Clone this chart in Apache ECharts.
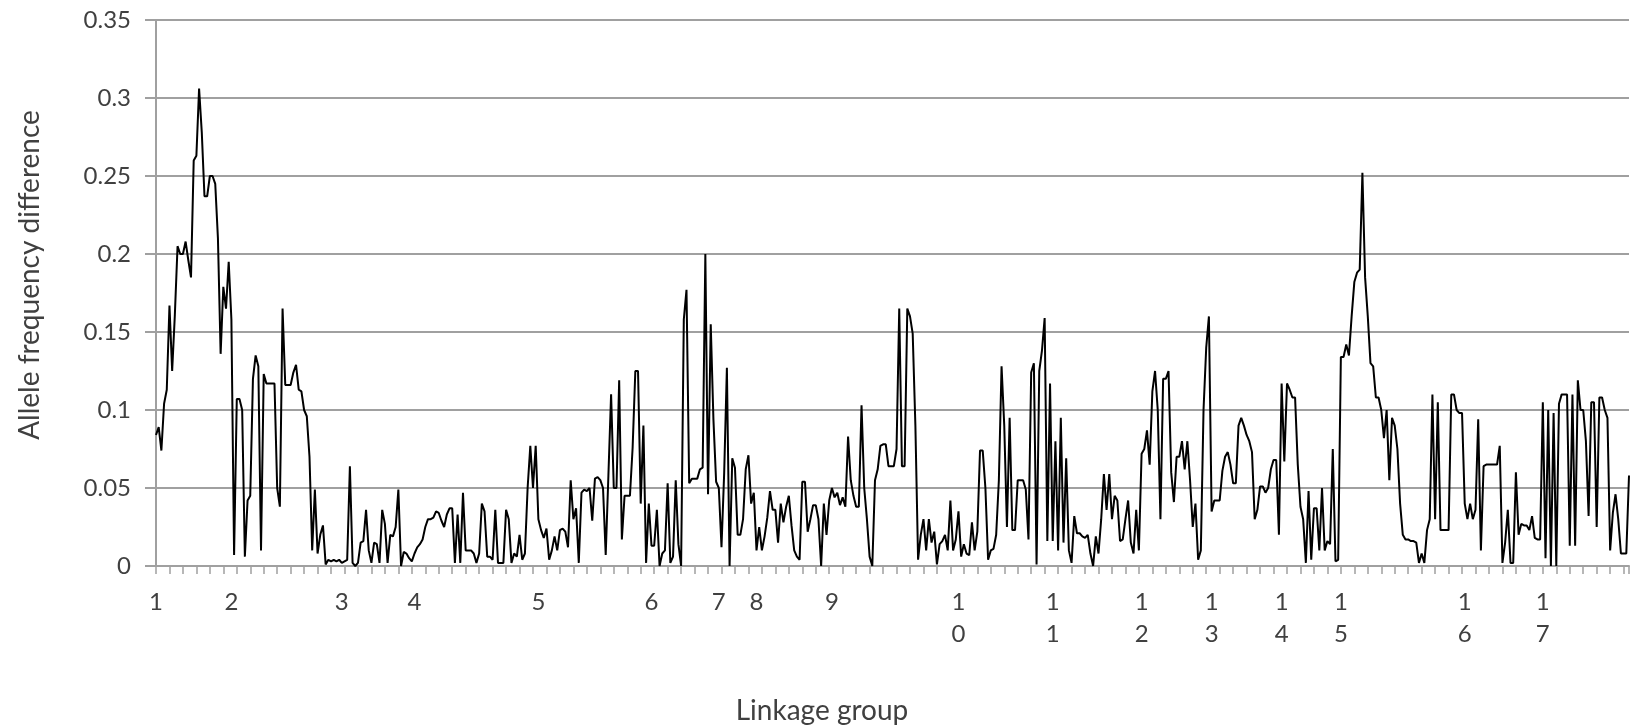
<!DOCTYPE html>
<html>
<head>
<meta charset="utf-8">
<script src="https://cdn.jsdelivr.net/npm/echarts@6/dist/echarts.min.js"></script>
<style>
  html, body { margin: 0; padding: 0; background: #ffffff; }
  #chart { width: 1632px; height: 728px; }
</style>
</head>
<body>
<div id="chart"></div>
<script>
// Linkage groups and the index of the first marker of each group along the genome
const groupNames = ['1','2','3','4','5','6','7','8','9','10','11','12','13','14','15','16','17'];
const groupStarts = [0, 28, 69, 96, 142, 184, 209, 223, 251, 298, 333, 366, 392, 418, 440, 486, 515];

// Allele frequency difference per marker, in genome order
const alleleDiff = [
  .084,.089,.074,.104,.113,.167,.125,.161,.205,.2,.2,.208,.196,.185,.26,.263,.306,.278,.237,.237,
  .25,.25,.245,.21,.136,.179,.165,.195,.158,.007,.107,.107,.1,.006,.042,.045,.12,.135,.128,.01,
  .123,.117,.117,.117,.117,.05,.038,.165,.116,.116,.116,.124,.129,.113,.112,.1,.096,.07,.01,.049,
  .008,.02,.026,.001,.004,.003,.004,.003,.004,.002,.003,.004,.064,.002,0,.002,.015,.016,.036,.01,
  .002,.015,.014,.002,.036,.027,.002,.02,.019,.025,.049,0,.009,.008,.005,.003,.008,.012,.014,.017,
  .025,.03,.03,.031,.035,.034,.029,.025,.033,.037,.037,.002,.033,.002,.047,.01,.01,.01,.008,.002,
  .008,.04,.035,.006,.006,.004,.036,.002,.002,.002,.036,.03,.002,.008,.006,.02,.004,.008,.05,.077,
  .05,.077,.03,.023,.018,.024,.004,.01,.019,.01,.023,.024,.022,.012,.055,.03,.037,.002,.047,.049,
  .048,.05,.029,.056,.057,.055,.05,.007,.058,.11,.05,.05,.119,.017,.045,.045,.045,.076,.125,.125,
  .04,.09,.002,.04,.013,.013,.036,0,.008,.01,.053,.002,.006,.055,.014,0,.158,.177,.053,.056,
  .056,.056,.062,.063,.2,.046,.155,.094,.054,.05,.012,.06,.127,0,.069,.063,.02,.02,.03,.062,
  .071,.04,.047,.01,.025,.01,.019,.031,.048,.036,.036,.015,.04,.028,.038,.045,.026,.01,.006,.004,
  .054,.054,.022,.03,.039,.039,.03,0,.04,.02,.042,.05,.044,.047,.039,.044,.038,.083,.055,.045,
  .038,.038,.103,.05,.03,.006,0,.055,.062,.077,.078,.078,.064,.064,.064,.075,.165,.064,.064,.165,
  .16,.149,.09,.004,.02,.03,.01,.03,.015,.022,.001,.014,.016,.02,.01,.042,.01,.017,.035,.006,
  .014,.008,.007,.028,.01,.022,.074,.074,.05,.004,.01,.011,.02,.055,.128,.09,.025,.095,.023,.023,
  .055,.055,.055,.049,.017,.124,.13,.001,.125,.138,.159,.016,.117,.016,.08,.01,.095,.015,.069,.01,
  .002,.032,.021,.021,.019,.018,.02,.008,0,.019,.008,.03,.059,.036,.059,.03,.045,.042,.016,.017,
  .03,.042,.015,.008,.036,.01,.072,.075,.087,.065,.112,.125,.1,.03,.12,.12,.125,.06,.041,.07,
  .07,.08,.062,.08,.055,.025,.04,.004,.01,.1,.14,.16,.035,.042,.042,.042,.061,.07,.073,.065,
  .053,.053,.09,.095,.09,.084,.08,.073,.03,.036,.051,.051,.047,.05,.062,.068,.068,.02,.117,.067,
  .117,.113,.108,.108,.065,.038,.03,.002,.048,.004,.037,.037,.01,.05,.01,.016,.014,.075,.003,.004,
  .134,.134,.142,.135,.16,.182,.188,.19,.252,.185,.16,.13,.128,.108,.108,.1,.082,.1,.055,.095,
  .09,.075,.04,.02,.017,.017,.016,.016,.015,.002,.008,.002,.023,.03,.11,.03,.105,.023,.023,.023,
  .023,.11,.11,.1,.098,.098,.04,.03,.04,.03,.036,.094,.01,.064,.065,.065,.065,.065,.065,.077,
  .002,.015,.036,.002,.002,.06,.02,.027,.026,.026,.023,.032,.018,.017,.017,.105,.005,.1,0,.098,
  0,.104,.11,.11,.11,.013,.11,.013,.119,.1,.1,.08,.032,.105,.105,.025,.108,.108,.1,.095,
  .01,.034,.046,.03,.008,.008,.008,.058
];

// Value axis range
const yMin = 0, yMax = 0.35, yStep = 0.05;

// Marker ids (group-position) and the group label shown at each group's first marker
const markerIds = [];
const tickLabels = [];
alleleDiff.forEach((_, i) => {
  let g = 0;
  while (g + 1 < groupStarts.length && groupStarts[g + 1] <= i) g++;
  markerIds.push(groupNames[g] + '-' + (i - groupStarts[g] + 1));
  tickLabels.push(groupStarts[g] === i ? groupNames[g] : '');
});

const font = 'Lato, "Open Sans", sans-serif';
const textColor = '#404040';
const gridColor = '#a0a0a0';

const chart = echarts.init(document.getElementById('chart'), null, { renderer: 'canvas' });
chart.setOption({
  animation: false,
  backgroundColor: '#ffffff',
  grid: { left: 156, right: 0, top: 20, bottom: 162, containLabel: false },
  xAxis: {
    type: 'category',
    data: markerIds,
    boundaryGap: false,
    axisLine: { show: true, lineStyle: { color: gridColor, width: 2 } },
    axisTick: { show: true, interval: 4, length: 8, inside: false, lineStyle: { color: gridColor, width: 1.5 } },
    axisLabel: {
      interval: 0,
      margin: 20,
      color: textColor,
      fontFamily: font,
      fontSize: 24,
      lineHeight: 32,
      formatter: (v, idx) => tickLabels[idx].split('').join('\n')
    },
    splitLine: { show: false }
  },
  yAxis: {
    type: 'value',
    min: yMin,
    max: yMax,
    interval: yStep,
    axisLine: { show: true, lineStyle: { color: gridColor, width: 2 } },
    axisTick: { show: true, length: 11, lineStyle: { color: gridColor, width: 2 } },
    axisLabel: { margin: 25, color: textColor, fontFamily: font, fontSize: 24 },
    splitLine: { show: true, lineStyle: { color: gridColor, width: 2 } }
  },
  graphic: [
    {
      type: 'text', x: 30, y: 275, rotation: Math.PI / 2,
      style: { text: 'Allele frequency difference', align: 'center', verticalAlign: 'middle',
               fill: textColor, font: '28px ' + font }
    },
    {
      type: 'text', x: 822, y: 711,
      style: { text: 'Linkage group', align: 'center', verticalAlign: 'middle',
               fill: textColor, font: '28px ' + font }
    }
  ],
  series: [{
    type: 'line',
    data: alleleDiff,
    showSymbol: false,
    symbol: 'none',
    lineStyle: { color: '#000000', width: 2 },
    emphasis: { disabled: true }
  }]
});
</script>
</body>
</html>
